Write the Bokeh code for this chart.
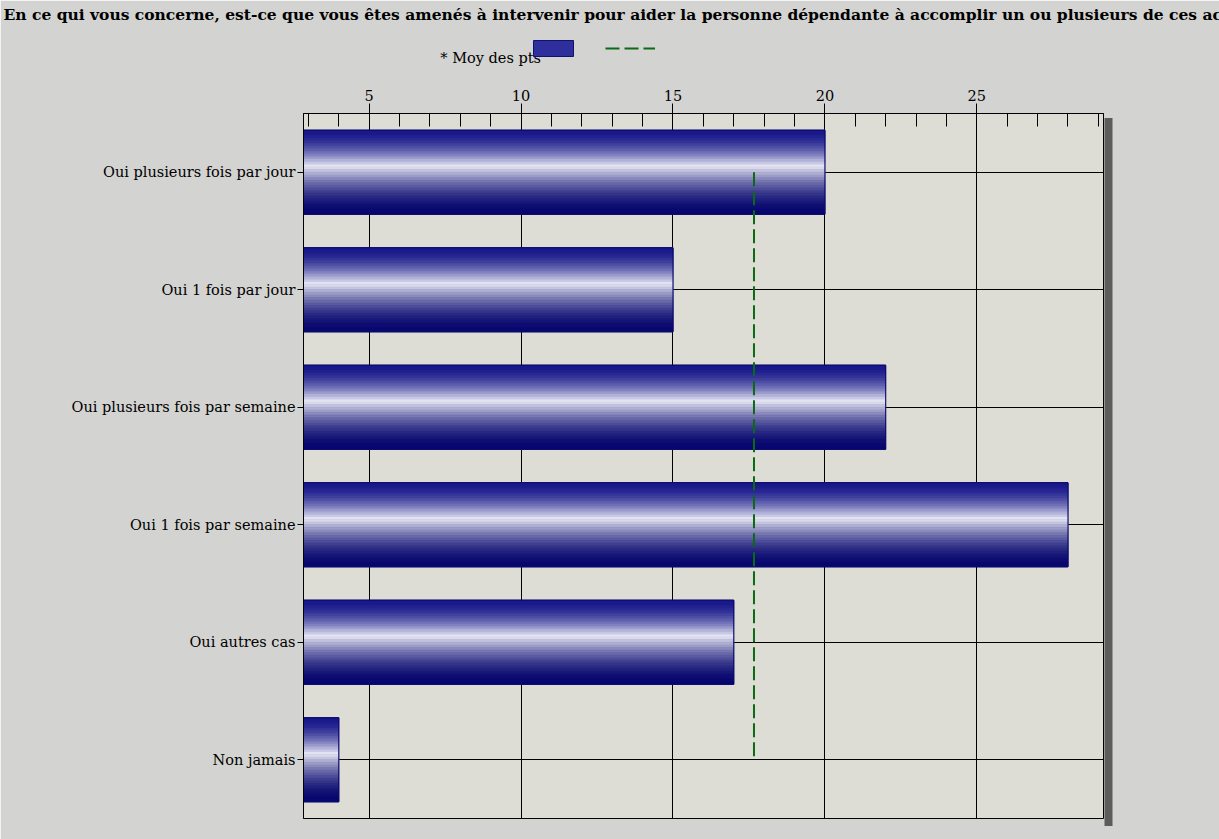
import numpy as np
from bokeh.plotting import figure
from bokeh.models import (ColumnDataSource, Range1d, FactorRange, Legend, LegendItem,
                          SingleIntervalTicker, LinearAxis, FixedTicker)
from bokeh.transform import dodge
from bokeh.embed import file_html
from bokeh.resources import INLINE

# ---------------- data ----------------
title_text = ("En ce qui vous concerne, est-ce que vous êtes amenés à intervenir pour aider "
              "la personne dépendante à accomplir un ou plusieurs de ces actes ?")
categories = ["Oui plusieurs fois par jour", "Oui 1 fois par jour",
              "Oui plusieurs fois par semaine", "Oui 1 fois par semaine",
              "Oui autres cas", "Non jamais"]
values = [20, 15, 22, 28, 17, 4]
mean_label = "* Moy des pts"
x_start, x_end = 2.84, 29.17
tick_interval = 5

mean_value = float(np.mean(values))

# ---------------- styling constants ----------------
SERIF = "DejaVu Serif"
FRAME_L, FRAME_T, FRAME_W, FRAME_H = 303, 113, 800, 705
CANVAS_W, CANVAS_H = 1219, 839
MEAN_COLOR = "#0b6b12"
BORDER_BG = "#d3d3d1"
PLOT_BG = "#dddcd5"
BAR_BASE = "#2e2e9c"
SHADOW = "#5c5c5c"
FRAME_R, FRAME_B = FRAME_L + FRAME_W, FRAME_T + FRAME_H

src = ColumnDataSource(dict(cat=categories, val=values))
mean_src = ColumnDataSource(dict(x0=[mean_value], y0=[categories[0]],
                                 x1=[mean_value], y1=[categories[-1]]))

p = figure(y_range=FactorRange(factors=list(reversed(categories))),
           x_range=Range1d(x_start, x_end),
           x_axis_location="above",
           frame_width=FRAME_W, frame_height=FRAME_H,
           min_border_left=FRAME_L, min_border_right=CANVAS_W - FRAME_R,
           min_border_top=FRAME_T, min_border_bottom=CANVAS_H - FRAME_B,
           output_backend="svg", toolbar_location=None,
           title=title_text)

p.border_fill_color = BORDER_BG
p.background_fill_color = PLOT_BG
p.outline_line_color = "black"
p.outline_line_width = 1

p.title.text_font = SERIF
p.title.text_font_style = "bold"
p.title.text_font_size = "15.5px"
p.title.text_color = "black"
p.title.align = "left"
p.title.offset = -300
p.title.standoff = 2

# ---------------- bars with a vertical gradient ----------------
bar_h = 0.715
dark_top = np.array([24, 24, 138])
light = np.array([234, 234, 246])
dark_bot = np.array([6, 6, 110])
peak = 0.43

def grad(t):
    if t < peak:
        s = t / peak
        c = dark_top + (light - dark_top) * s ** 1.8
    else:
        s = (1 - t) / (1 - peak)
        c = dark_bot + (light - dark_bot) * s ** 1.8
    c = np.clip(c, 0, 255).astype(int)
    return "#%02x%02x%02x" % tuple(c)

r_base = p.hbar(y="cat", right="val", height=bar_h, fill_color=BAR_BASE,
                line_color="#10106e", line_width=1, source=src)
N = 32
for i in range(N):
    t = (i + 0.5) / N
    off = bar_h / 2 - t * bar_h
    col = grad(t)
    p.hbar(y=dodge("cat", off, range=p.y_range), right="val",
           height=bar_h / N, fill_color=col, line_color=col, line_width=0.6,
           source=src)
p.hbar(y="cat", right="val", height=bar_h, fill_alpha=0,
       line_color="#0a0a70", line_width=1, source=src)

# ---------------- mean line ----------------
r_mean = p.segment(x0="x0", y0="y0", x1="x1", y1="y1", source=mean_src,
                   line_color=MEAN_COLOR, line_width=2, line_dash="14 5")

# ---------------- legend glyphs + frame shadow (legends in the right panel) ----------------
r_sh_area = p.hbar(y="cat", right="val", height=0.5, fill_color=SHADOW,
                   line_color=None, source=src, visible=False)
common = dict(padding=0, margin=0, label_standoff=0,
              label_width=0, label_height=0, label_text_font_size="1px",
              background_fill_alpha=0, border_line_alpha=0,
              inactive_fill_alpha=0)

# right shadow of the frame (area legend glyphs are drawn with a 10% inset)
p.add_layout(Legend(items=[LegendItem(label=" ", renderers=[r_sh_area])],
                    location=(0, -96), glyph_width=10, glyph_height=885,
                    spacing=0, **common), "right")

# legend samples: bar swatch + dashed mean line, placed above the chart
LEG_PANEL_LEFT = 1578
GW, GH = 50, 20
p.add_layout(Legend(items=[LegendItem(label=" ", renderers=[r_base]),
                           LegendItem(label=" ", renderers=[r_mean])],
                    orientation="horizontal",
                    location=(int(FRAME_L - 0.1 * GW) - LEG_PANEL_LEFT,
                              int(FRAME_B - GH - (40 - 0.1 * GH))),
                    glyph_width=GW, glyph_height=GH, spacing=27,
                    **common), "right")

# legend text, carried by a bare axis above the x axis (also spaces the title upwards)
leg_axis = LinearAxis(ticker=FixedTicker(ticks=[9]),
                      major_label_overrides={9: mean_label},
                      axis_line_color=None, major_tick_line_color=None,
                      minor_tick_line_color=None, major_tick_out=0, major_tick_in=0,
                      major_label_standoff=21,
                      major_label_text_font=SERIF, major_label_text_font_size="14.5px",
                      major_label_text_color="black",
                      axis_label=" ", axis_label_standoff=0,
                      axis_label_text_font_size="17px")
p.add_layout(leg_axis, "above")

# ---------------- axes & grids ----------------
xa = p.xaxis[0]
xa.ticker = SingleIntervalTicker(interval=tick_interval, num_minor_ticks=5)
xa.major_tick_out = 10
xa.major_tick_in = 13
xa.minor_tick_in = 13
xa.minor_tick_out = 0
xa.major_tick_line_color = "black"
xa.minor_tick_line_color = "black"
xa.axis_line_color = "black"
xa.major_label_standoff = 3
xa.major_label_text_font = SERIF
xa.major_label_text_font_size = "14.5px"
xa.major_label_text_color = "black"

ya = p.yaxis[0]
ya.major_tick_out = 6
ya.major_tick_in = 0
ya.minor_tick_line_color = None
ya.major_tick_line_color = "black"
ya.axis_line_color = "black"
ya.major_label_standoff = 2
ya.major_label_text_font = SERIF
ya.major_label_text_font_size = "14.5px"
ya.major_label_text_color = "black"

p.xgrid.ticker = xa.ticker
p.xgrid.grid_line_color = "black"
p.xgrid.grid_line_alpha = 1
p.ygrid.grid_line_color = "black"
p.ygrid.grid_line_alpha = 1

open("out.html", "w").write(file_html(p, INLINE))
